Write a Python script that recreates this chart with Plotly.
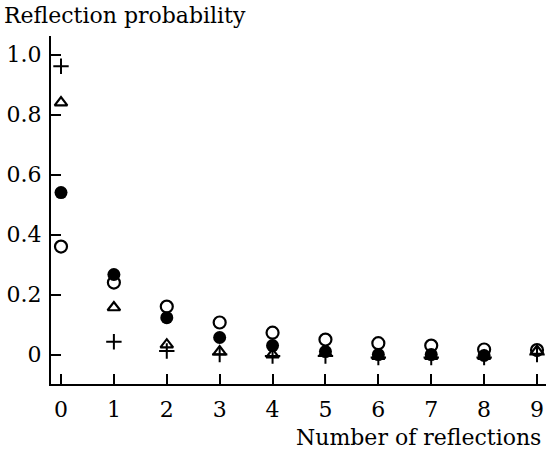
import plotly.graph_objects as go

reflections = [0, 1, 2, 3, 4, 5, 6, 7, 8, 9]

# Series
open_circle = [0.36, 0.24, 0.16, 0.107, 0.073, 0.05, 0.038, 0.03, 0.017, 0.015]
filled_circle = [0.54, 0.267, 0.123, 0.057, 0.03, 0.01, 0.0, 0.0, -0.003]
triangle = [0.84, 0.157, 0.033, 0.01, 0.0, 0.005, -0.005, -0.005, -0.005, 0.012]
plus = [0.961, 0.043, 0.012, 0.0, -0.005, -0.005, -0.01, -0.01, -0.01, 0.0]

y_ticks = [0, 0.2, 0.4, 0.6, 0.8, 1.0]
y_tick_labels = ["0", "0.2", "0.4", "0.6", "0.8", "1.0"]

FONT = "DejaVu Serif"

fig = go.Figure()
fig.add_trace(go.Scatter(
    x=reflections[:len(plus)], y=plus, mode="markers",
    marker=dict(symbol="cross-thin", size=11, line=dict(width=2, color="black"), color="black")))
fig.add_trace(go.Scatter(
    x=reflections[:len(triangle)], y=triangle, mode="markers",
    marker=dict(symbol="triangle-up-open", size=11, line=dict(width=2.2, color="black"), color="black")))
fig.add_trace(go.Scatter(
    x=reflections[:len(filled_circle)], y=filled_circle, mode="markers",
    marker=dict(symbol="circle", size=13, color="black", line=dict(width=0))))
fig.add_trace(go.Scatter(
    x=reflections[:len(open_circle)], y=open_circle, mode="markers",
    marker=dict(symbol="circle-open", size=12, line=dict(width=2.2, color="black"), color="black")))

fig.update_layout(
    width=546, height=451,
    margin=dict(l=51, r=0, t=36, b=67),
    paper_bgcolor="white", plot_bgcolor="white",
    showlegend=False,
    font=dict(family=FONT, color="black", size=22),
    xaxis=dict(
        range=[-0.189, 9.17], tickvals=reflections, ticktext=[str(v) for v in reflections],
        showline=True, linecolor="black", linewidth=2, mirror=False,
        ticks="inside", ticklen=10, tickwidth=2, tickcolor="black",
        showgrid=False, zeroline=False, tickfont=dict(size=22, family=FONT),
        ticklabelstandoff=5,
    ),
    yaxis=dict(
        range=[-0.098, 1.062], tickvals=y_ticks, ticktext=y_tick_labels,
        showline=True, linecolor="black", linewidth=2, mirror=False,
        ticks="inside", ticklen=10, tickwidth=2, tickcolor="black",
        showgrid=False, zeroline=False, tickfont=dict(size=22, family=FONT),
        ticklabelstandoff=3,
    ),
    annotations=[
        dict(text="Reflection probability", xref="paper", yref="paper",
             x=-49/495, y=1 + 21/348, xanchor="left", yanchor="middle",
             showarrow=False, font=dict(size=22, family=FONT, color="black")),
        dict(text="Number of reflections", xref="paper", yref="paper",
             x=1 - 3/495, y=-(437-384)/348, xanchor="right", yanchor="middle",
             showarrow=False, font=dict(size=22, family=FONT, color="black")),
    ],
)

fig.write_html("out.html", config={"displayModeBar": False},
               post_script="document.body.style.margin='0';")
